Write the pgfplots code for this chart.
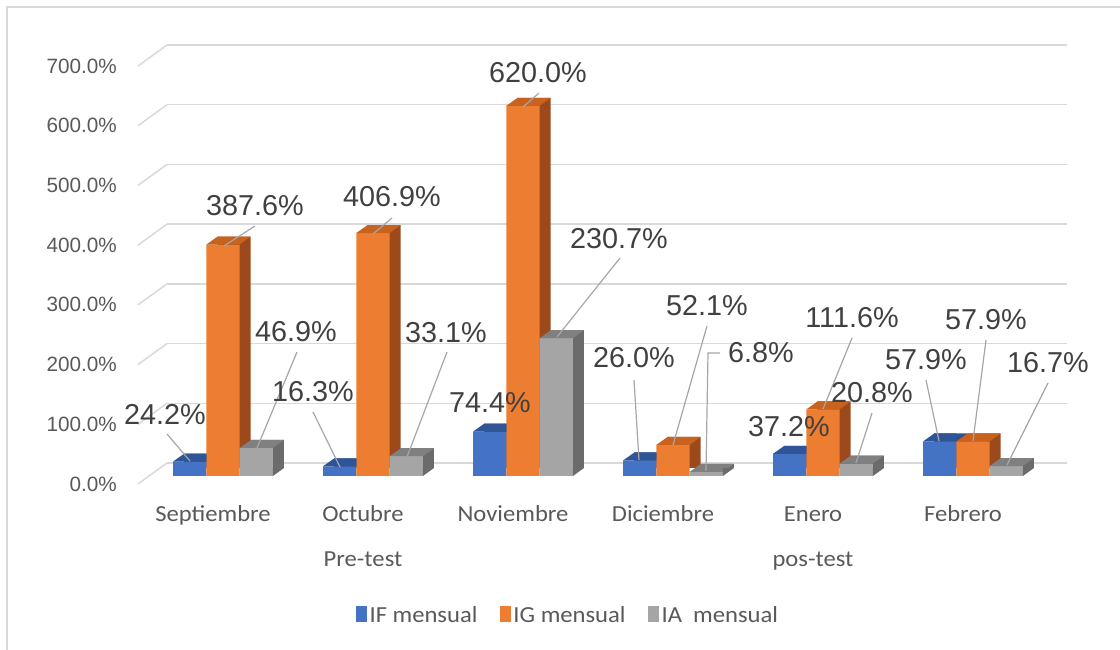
\documentclass[border=0pt]{standalone}
\usepackage{pgfplots}
\usepackage{pgfplotstable}
\pgfplotsset{compat=1.18}
\usepackage{fontspec}
\setmainfont{Carlito}[FakeStretch=1.07]
\newfontfamily\lib{Liberation Sans}
\definecolor{IFc}{HTML}{4472C4}
\definecolor{IFtop}{HTML}{2F5597}
\definecolor{IFside}{HTML}{2F528F}
\definecolor{IGc}{HTML}{ED7D31}
\definecolor{IGtop}{HTML}{C8621E}
\definecolor{IGside}{HTML}{9C4A1B}
\definecolor{IAc}{HTML}{A5A5A5}
\definecolor{IAtop}{HTML}{808080}
\definecolor{IAside}{HTML}{6B6B6B}
\definecolor{gridc}{HTML}{D9D9D9}
\definecolor{tickc}{HTML}{595959}
\definecolor{labc}{HTML}{404040}
\definecolor{leadc}{HTML}{A6A6A6}
\definecolor{framec}{HTML}{D9D9D9}

% full top face (used for the rightmost bar of a group and for bars whose right neighbour is not taller)
\pgfdeclareplotmark{topface}{%
  \pgfpathmoveto{\pgfpoint{-16.65pt}{0pt}}%
  \pgfpathlineto{\pgfpoint{16.65pt}{0pt}}%
  \pgfpathlineto{\pgfpoint{27.65pt}{8pt}}%
  \pgfpathlineto{\pgfpoint{-5.35pt}{8pt}}%
  \pgfpathclose\pgfusepathqfill}
% top face cut at the right edge of the front face (hidden by a taller neighbour)
\pgfdeclareplotmark{topfacecut}{%
  \pgfpathmoveto{\pgfpoint{-16.65pt}{0pt}}%
  \pgfpathlineto{\pgfpoint{16.65pt}{0pt}}%
  \pgfpathlineto{\pgfpoint{16.65pt}{8pt}}%
  \pgfpathlineto{\pgfpoint{-5.35pt}{8pt}}%
  \pgfpathclose\pgfusepathqfill}
\pgfdeclareplotmark{botface}{%
  \pgfpathmoveto{\pgfpoint{16.65pt}{0pt}}%
  \pgfpathlineto{\pgfpoint{27.65pt}{8pt}}%
  \pgfpathlineto{\pgfpoint{16.65pt}{8pt}}%
  \pgfpathclose\pgfusepathqfill}

\pgfplotstableread{
x IF IG IA zero
0 24.2 387.6 46.9 0
1 16.3 406.9 33.1 0
2 74.4 620.0 230.7 0
3 26.0 52.1 6.8 0
4 37.2 111.6 20.8 0
5 57.9 57.9 16.7 0
}\data

\begin{document}
\begin{tikzpicture}
\useasboundingbox (0pt,0pt) rectangle (1120pt,650pt);
\draw[framec, line width=1.5pt] (7pt,0pt) -- (7pt,643pt) -- (1120pt,643pt);

% back wall grid
\begin{axis}[at={(167pt,187pt)}, anchor=south west, scale only axis,
  width=900pt, height=418pt, xmin=-0.5, xmax=5.5, ymin=0, ymax=700,
  ytick={0,100,...,700}, xtick=\empty, yticklabels={},
  ymajorgrids, grid style={draw=gridc, line width=1.5pt},
  axis line style={draw=none}, major tick length=0pt]
\addplot[draw=none] coordinates {(0,0)};
\end{axis}

% front frame: tick labels and diagonals
\begin{axis}[at={(138pt,166pt)}, anchor=south west, scale only axis,
  width=900pt, height=418pt, xmin=-0.5, xmax=5.5, ymin=0, ymax=700, clip=false,
  axis line style={draw=none}, major tick length=0pt,
  ytick={0,100,...,700},
  yticklabels={0.0\%,100.0\%,200.0\%,300.0\%,400.0\%,500.0\%,600.0\%,700.0\%},
  yticklabel style={font=\lib\fontsize{20.7}{24}\selectfont, text=tickc, anchor=east, inner sep=0pt, xshift=-21pt},
  xtick={0,...,5},
  xticklabels={Septiembre,Octubre,Noviembre,Diciembre,Enero,Febrero},
  xticklabel style={font=\fontsize{23}{27}\selectfont, text=tickc, anchor=base, inner sep=0pt, yshift=-38pt}]
\addplot[draw=none] coordinates {(0,0)};
\pgfplotsinvokeforeach{0,100,...,700}{\draw[gridc, line width=1.5pt] (axis cs:-0.5,#1) -- ++(29pt,21pt);}
\node[font=\fontsize{23}{27}\selectfont, text=tickc, anchor=base, inner sep=0pt] at (axis cs:1,0) [yshift=-83pt] {Pre-test};
\node[font=\fontsize{23}{27}\selectfont, text=tickc, anchor=base, inner sep=0pt] at (axis cs:4,0) [yshift=-83pt] {pos-test};
\end{axis}

% bars
\begin{axis}[at={(148pt,174pt)}, anchor=south west, scale only axis,
  width=900pt, height=418pt, xmin=-0.5, xmax=5.5, ymin=0, ymax=700, clip=false,
  hide axis,
  legend columns=3,
  legend image code/.code={\fill[#1] (0pt,-7pt) rectangle (11pt,9pt);},
  legend style={draw=none, fill=none, at={(0.467,-0.3325)}, anchor=center,
    font=\fontsize{23}{27}\selectfont, text=tickc,
    nodes={inner sep=2.5pt},
    /tikz/every odd column/.style={column sep=0pt},
    /tikz/every even column/.style={column sep=20pt}}]
% IF
\addplot[ybar, bar width=33.3pt, bar shift=-22.3pt, yshift=8pt, fill=IFside, draw=none, forget plot] table[x=x,y=IF]{\data};
\addplot[ybar, bar width=33.3pt, bar shift=-33.3pt, fill=IFc, draw=none] table[x=x,y=IF]{\data};
\addlegendentry{IF mensual}
\addplot[only marks, mark=topfacecut, mark options={xshift=-33.3pt, fill=IFtop, draw=none}, forget plot] table[x=x,y=IF]{\data};
% IG
\addplot[ybar, bar width=33.3pt, bar shift=11pt, yshift=8pt, fill=IGside, draw=none, forget plot] table[x=x,y=IG]{\data};
\addplot[ybar, bar width=33.3pt, bar shift=0pt, fill=IGc, draw=none] table[x=x,y=IG]{\data};
\addlegendentry{IG mensual}
\addplot[only marks, mark=topface, mark options={fill=IGtop, draw=none}, forget plot] table[x=x,y=IG]{\data};
% IA
\addplot[ybar, bar width=33.3pt, bar shift=44.3pt, yshift=8pt, fill=IAside, draw=none, forget plot] table[x=x,y=IA]{\data};
\addplot[ybar, bar width=33.3pt, bar shift=33.3pt, fill=IAc, draw=none] table[x=x,y=IA]{\data};
\addlegendentry{IA\ \ mensual}
\addplot[only marks, mark=topface, mark options={xshift=33.3pt, fill=IAtop, draw=none}, forget plot] table[x=x,y=IA]{\data};
\addplot[only marks, mark=botface, mark options={xshift=33.3pt, fill=IAside, draw=none}, forget plot] table[x=x,y=zero]{\data};
\end{axis}

% data labels (image pixel coordinates)
\begin{scope}[x=1pt, y=-1pt, shift={(0pt,650pt)}]
\begin{scope}[leadc, line width=1.2pt]
\draw (167,434) -- (190,461);
\draw (255,226) -- (224,246);
\draw (297,352) -- (257,448);
\draw (313,412) -- (340,467);
\draw (392,218) -- (373,234);
\draw (447,352) -- (407,457);
\draw (539,93) -- (523,107);
\draw (620,258) -- (557,337);
\draw (634,380) -- (639,460);
\draw (707,326) -- (673,445);
\draw (720,353) -- (708,353) -- (706,471);
\draw (852,338) -- (823,409);
\draw (872,413) -- (856,463);
\draw (926,380) -- (939,441);
\draw (986,340) -- (973,441);
\draw (1048,383) -- (1007,465);
\end{scope}
\foreach \tx/\ty/\lab in {165/415/24.2, 255/206/387.6, 296/332/46.9, 313/392/16.3,
  392/197/406.9, 446/333/33.1, 490/403/74.4, 538/73/620.0, 619/239/230.7,
  634/358/26.0, 707/306/52.1, 761/353/6.8, 789/427/37.2, 852/318/111.6,
  872/393/20.8, 926/360/57.9, 986/320/57.9, 1048/363/16.7}
  \node[font=\lib\fontsize{28.8}{32}\selectfont, text=labc, inner sep=0pt, anchor=center] at (\tx,\ty) {\lab\%};
\end{scope}
\end{tikzpicture}
\end{document}
